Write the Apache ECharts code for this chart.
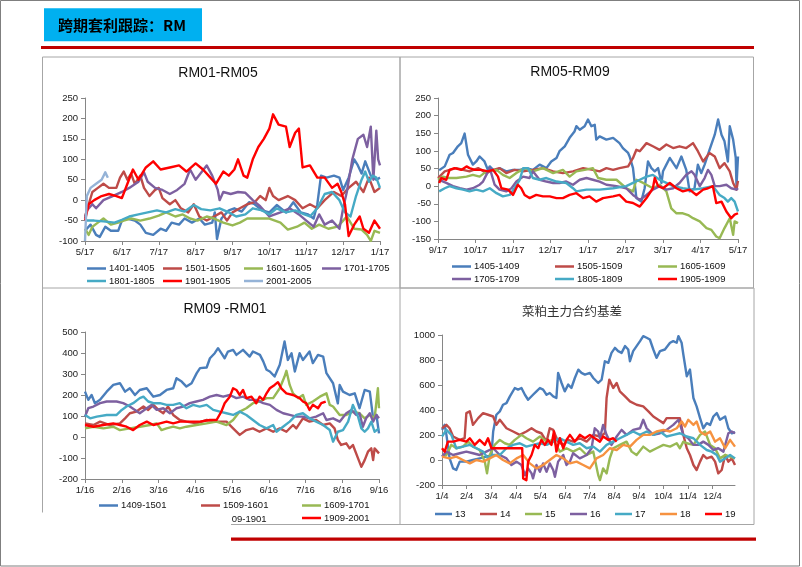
<!DOCTYPE html>
<html><head><meta charset="utf-8">
<script src="https://cdn.jsdelivr.net/npm/echarts@6/dist/echarts.min.js"></script>
<style>html,body{margin:0;padding:0;background:#fff}#c{width:802px;height:567px}</style>
</head><body><div id="c"></div>
<script>
// ---------- tick labels ----------
const p1Labels = ['5/17','6/17','7/17','8/17','9/17','10/17','11/17','12/17','1/17'];
const p2Labels = ['9/17','10/17','11/17','12/17','1/17','2/17','3/17','4/17','5/17'];
const p3Labels = ['1/16','2/16','3/16','4/16','5/16','6/16','7/16','8/16','9/16'];
const p4Labels = ['1/4','2/4','3/4','4/4','5/4','6/4','7/4','8/4','9/4','10/4','11/4','12/4'];

// ---------- titles ----------
const headerText = '跨期套利跟踪：RM';
const titles = ['RM01-RM05','RM05-RM09','RM09 -RM01','菜粕主力合约基差'];

// ---------- panel 1: RM01-RM05 (x = months since 5/17) ----------
const p1_1401_1405 = [[0,-75],[0.15,-60],[0.3,-85],[0.4,-90],[0.55,-65],[0.7,-75],[0.9,-75],[1.0,-50],[1.15,-45],[1.35,-50],[1.5,-60],[1.65,-80],[1.85,-85],[2.05,-70],[2.2,-75],[2.35,-55],[2.55,-60],[2.7,-45],[2.9,-55],[3.1,-45],[3.25,-60],[3.45,-55],[3.52,-30],[3.58,-95],[3.7,-45],[3.9,-25],[4.05,-20],[4.25,-28],[4.45,-5],[4.6,-10],[4.8,-25],[5.0,-30],[5.2,-12],[5.45,-30],[5.65,-5],[5.85,-30],[6.05,-35],[6.2,-45],[6.3,-10],[6.4,60],[6.55,55],[6.75,60],[6.9,55],[7.0,25],[7.15,55],[7.3,100],[7.4,85],[7.5,65],[7.6,95],[7.75,60],[7.9,50],[8.0,55]];
const p1_1501_1505 = [[0,-40],[0.1,-10],[0.2,20],[0.35,30],[0.5,40],[0.65,30],[0.85,30],[0.95,55],[1.05,70],[1.15,50],[1.25,65],[1.35,40],[1.5,60],[1.6,30],[1.75,10],[1.9,25],[2.0,30],[2.1,5],[2.3,-10],[2.45,0],[2.6,-20],[2.8,-30],[2.95,-10],[3.1,-40],[3.3,-50],[3.5,-40],[3.7,-30],[3.85,-50],[4.0,-30],[4.2,-20],[4.4,-10],[4.6,-5],[4.75,10],[4.9,0],[5.0,30],[5.1,10],[5.25,0],[5.5,10],[5.7,0],[5.9,-20],[6.1,-10],[6.3,-20],[6.5,0],[6.75,20],[6.95,10],[7.15,30],[7.35,45],[7.55,20],[7.7,55],[7.85,20],[8.0,30]];
const p1_1601_1605 = [[0,-70],[0.1,-85],[0.2,-65],[0.35,-55],[0.5,-45],[0.7,-60],[0.9,-55],[1.05,-50],[1.25,-45],[1.5,-50],[1.75,-45],[2.0,-38],[2.2,-30],[2.45,-40],[2.65,-35],[2.85,-45],[3.05,-50],[3.3,-40],[3.5,-45],[3.75,-55],[4.0,-62],[4.2,-55],[4.4,-45],[4.7,-45],[5.0,-45],[5.3,-55],[5.5,-72],[5.75,-65],[5.95,-55],[6.15,-70],[6.35,-60],[6.6,-70],[6.85,-65],[7.0,-50],[7.1,-40],[7.3,-70],[7.5,-72],[7.65,-85],[7.75,-100],[7.85,-75],[8.0,-80]];
const p1_1701_1705 = [[0,-45],[0.05,-25],[0.2,-10],[0.3,-20],[0.5,0],[0.75,10],[1.0,20],[1.2,30],[1.45,45],[1.6,68],[1.7,45],[1.9,30],[2.1,25],[2.3,15],[2.5,25],[2.7,40],[2.85,75],[3.0,50],[3.3,85],[3.45,60],[3.6,25],[3.65,0],[3.75,20],[3.95,15],[4.15,20],[4.35,18],[4.55,0],[4.75,-15],[5.0,-40],[5.3,-30],[5.55,-20],[5.8,-35],[6.0,-50],[6.2,-65],[6.35,-35],[6.5,-60],[6.7,-50],[6.9,-70],[7.0,-20],[7.1,20],[7.25,100],[7.4,150],[7.55,160],[7.65,130],[7.75,180],[7.82,50],[7.9,170],[7.95,100],[8.0,85]];
const p1_1801_1805 = [[0,-50],[0.25,-50],[0.5,-52],[0.8,-55],[1.0,-48],[1.2,-40],[1.45,-35],[1.7,-30],[1.95,-25],[2.2,-30],[2.45,-22],[2.7,-28],[2.95,-12],[3.15,-22],[3.4,-25],[3.65,-20],[3.9,-30],[4.1,-40],[4.35,-35],[4.55,-20],[4.8,-25],[5.0,-35],[5.2,-20],[5.45,-30],[5.7,-25],[5.95,-35],[6.1,-40],[6.3,-20],[6.5,15],[6.7,20],[6.9,0],[7.05,-30],[7.2,-40],[7.35,10],[7.5,50],[7.6,70],[7.7,45],[7.8,60],[7.9,55],[8.0,30]];
const p1_1901_1905 = [[0,-50],[0.1,-10],[0.25,0],[0.45,10],[0.65,15],[0.85,10],[1.0,5],[1.15,40],[1.3,75],[1.45,50],[1.65,80],[1.85,95],[2.05,75],[2.3,80],[2.55,85],[2.75,70],[3.0,90],[3.2,75],[3.4,55],[3.55,40],[3.75,70],[3.9,60],[4.05,75],[4.15,100],[4.3,60],[4.4,55],[4.55,100],[4.7,130],[4.85,150],[5.0,175],[5.1,210],[5.25,185],[5.45,180],[5.55,130],[5.7,165],[5.8,175],[5.9,80],[6.1,85],[6.3,55],[6.5,55],[6.7,30],[6.85,40],[6.95,20],[7.05,-10],[7.15,-88],[7.3,-60],[7.45,-40],[7.55,-70],[7.7,-80],[7.85,-50],[8.0,-70]];
const p1_2001_2005 = [[0,-100],[0.05,10],[0.15,30],[0.3,40],[0.45,50],[0.55,68],[0.62,55]];

// ---------- panel 2: RM05-RM09 (x = months since 9/17) ----------
const p2_1405_1409 = [[0.03,45],[0.18,56],[0.31,89],[0.4,94],[0.53,113],[0.62,122],[0.71,149],[0.8,89],[0.93,61],[1.02,70],[1.11,84],[1.24,70],[1.33,46],[1.38,56],[1.51,42],[1.64,51],[1.82,42],[2.0,46],[2.18,46],[2.36,51],[2.53,46],[2.71,61],[2.89,51],[3.02,70],[3.16,80],[3.24,99],[3.38,113],[3.51,137],[3.64,155],[3.69,170],[3.78,160],[3.91,170],[4.0,189],[4.09,170],[4.18,174],[4.22,132],[4.31,141],[4.49,132],[4.67,137],[4.84,122],[4.93,108],[5.07,94],[5.11,84],[5.2,51],[5.29,-34],[5.42,-44],[5.51,-6],[5.6,70],[5.69,51],[5.78,42],[5.87,51],[5.96,9],[6.0,42],[6.09,61],[6.18,80],[6.36,51],[6.49,84],[6.62,46],[6.71,-15],[6.84,-6],[6.93,61],[7.02,37],[7.11,61],[7.24,103],[7.38,146],[7.47,189],[7.56,146],[7.64,127],[7.73,70],[7.78,170],[7.87,132],[7.94,80],[7.96,0],[8.0,84]];
const p2_1505_1509 = [[0,23],[0.18,42],[0.31,46],[0.49,51],[0.67,46],[0.84,42],[1.07,51],[1.29,37],[1.47,46],[1.64,51],[1.82,37],[2.04,46],[2.27,42],[2.53,46],[2.8,51],[3.07,42],[3.33,37],[3.6,42],[3.87,51],[4.13,46],[4.31,42],[4.49,51],[4.67,46],[4.84,51],[5.07,56],[5.2,80],[5.29,103],[5.38,99],[5.56,122],[5.73,113],[5.91,103],[6.09,118],[6.27,108],[6.44,113],[6.62,108],[6.8,122],[6.93,99],[7.07,70],[7.24,94],[7.38,84],[7.51,51],[7.64,65],[7.78,42],[7.87,9],[7.96,-10],[8.0,15]];
const p2_1605_1609 = [[0,18],[0.13,27],[0.27,23],[0.49,23],[0.76,27],[0.93,32],[1.11,27],[1.29,42],[1.56,46],[1.73,32],[1.91,23],[2.09,37],[2.31,51],[2.53,42],[2.8,51],[3.07,37],[3.33,46],[3.51,27],[3.69,42],[3.91,46],[4.13,51],[4.27,23],[4.49,18],[4.76,18],[5.02,-6],[5.2,-15],[5.29,18],[5.47,9],[5.73,-6],[5.91,4],[6.09,-15],[6.22,-63],[6.36,-77],[6.53,-77],[6.67,-82],[6.8,-91],[6.98,-100],[7.16,-119],[7.29,-124],[7.42,-143],[7.51,-148],[7.64,-119],[7.78,-91],[7.87,-138],[7.91,-100],[8.0,-105]];
const p2_1705_1709 = [[0.03,18],[0.22,9],[0.4,0],[0.58,-6],[0.76,-10],[0.93,-6],[1.11,4],[1.2,13],[1.29,32],[1.38,51],[1.51,4],[1.64,-10],[1.82,-15],[1.96,-6],[2.09,13],[2.27,27],[2.44,23],[2.53,42],[2.71,18],[2.89,13],[3.07,9],[3.24,9],[3.42,13],[3.6,4],[3.78,18],[3.96,23],[4.13,18],[4.31,13],[4.49,4],[4.76,0],[5.02,-6],[5.2,-25],[5.38,-39],[5.56,-25],[5.73,-10],[5.91,0],[6.09,-10],[6.27,-6],[6.44,9],[6.62,32],[6.76,42],[6.84,32],[6.98,0],[7.11,23],[7.2,46],[7.29,32],[7.38,0],[7.51,0],[7.69,4],[7.82,-6],[7.96,-10],[8.0,-6]];
const p2_1805_1809 = [[0.03,-15],[0.18,-6],[0.31,0],[0.49,-6],[0.67,-10],[0.84,-15],[1.02,-10],[1.2,-15],[1.38,-6],[1.56,-20],[1.73,-29],[1.91,-25],[2.04,-6],[2.18,18],[2.27,51],[2.4,51],[2.53,23],[2.71,18],[2.89,23],[3.16,13],[3.42,9],[3.6,-6],[3.69,-15],[3.96,-10],[4.31,-10],[4.67,-6],[5.02,0],[5.2,9],[5.38,18],[5.56,27],[5.73,32],[5.91,18],[6.09,9],[6.27,0],[6.53,-6],[6.8,-10],[7.07,-6],[7.33,0],[7.51,-25],[7.64,-34],[7.73,-44],[7.82,-34],[7.91,-44],[8.0,-72]];
const p2_1905_1909 = [[0.03,9],[0.09,23],[0.22,18],[0.31,46],[0.44,51],[0.62,46],[0.76,56],[0.84,51],[0.98,46],[1.16,46],[1.33,42],[1.47,46],[1.6,27],[1.69,-6],[1.87,-10],[2.0,-25],[2.13,4],[2.22,-6],[2.31,-25],[2.44,-34],[2.62,-25],[2.8,-29],[2.98,-29],[3.16,-34],[3.33,-34],[3.51,-25],[3.69,-20],[3.87,-34],[4.04,-29],[4.22,-44],[4.4,-34],[4.67,-29],[4.84,-25],[5.02,-44],[5.2,-48],[5.38,-58],[5.56,-34],[5.73,-6],[5.78,23],[5.87,0],[6.0,-6],[6.18,9],[6.36,-6],[6.53,-15],[6.71,-10],[6.89,-25],[7.07,-10],[7.2,-6],[7.33,0],[7.42,-48],[7.56,-44],[7.69,-72],[7.82,-91],[7.91,-81],[8.0,-77]];

// ---------- panel 3: RM09-RM01 (x = months since 1/16) ----------
const p3_1409_1501 = [[0,216],[0.09,177],[0.18,200],[0.27,161],[0.41,177],[0.59,216],[0.77,248],[0.95,256],[1.09,216],[1.22,232],[1.36,200],[1.49,224],[1.68,232],[1.86,192],[2.04,200],[2.22,224],[2.4,232],[2.49,280],[2.63,264],[2.76,240],[2.9,256],[3.04,304],[3.13,328],[3.31,331],[3.4,375],[3.53,399],[3.62,423],[3.71,399],[3.8,375],[3.89,407],[4.03,415],[4.12,391],[4.3,415],[4.48,383],[4.57,407],[4.76,391],[4.85,360],[4.94,320],[5.03,312],[5.16,288],[5.3,344],[5.43,455],[5.52,367],[5.62,399],[5.71,312],[5.84,399],[5.93,367],[6.11,407],[6.2,352],[6.34,391],[6.48,383],[6.57,304],[6.75,256],[6.88,160],[6.93,248],[7.02,216],[7.2,200],[7.34,208],[7.47,137],[7.61,224],[7.75,216],[7.84,89],[7.93,105],[8,17]];
const p3_1509_1601 = [[0,65],[0.23,57],[0.41,73],[0.68,57],[0.95,65],[1.09,89],[1.22,113],[1.4,121],[1.59,145],[1.72,129],[1.86,153],[2.0,129],[2.13,113],[2.26,145],[2.4,105],[2.58,81],[2.76,73],[3.03,65],[3.31,81],[3.58,73],[3.85,73],[4.03,41],[4.21,10],[4.39,33],[4.57,41],[4.75,25],[4.94,41],[5.12,25],[5.3,41],[5.48,25],[5.66,57],[5.75,41],[5.93,89],[6.11,73],[6.29,81],[6.48,57],[6.66,65],[6.79,41],[6.88,-14],[6.97,-38],[7.11,-30],[7.2,-54],[7.29,-38],[7.43,-102],[7.52,-142],[7.61,-110],[7.7,-70],[7.79,-54],[7.84,-110],[7.88,-54],[8.0,-78]];
const p3_1609_1701 = [[0,41],[0.23,49],[0.5,41],[0.77,49],[0.95,33],[1.22,41],[1.49,49],[1.77,57],[1.95,65],[2.08,33],[2.22,41],[2.4,49],[2.58,41],[2.76,49],[3.03,57],[3.31,65],[3.58,73],[3.85,57],[4.03,81],[4.21,121],[4.39,137],[4.57,161],[4.75,169],[4.94,185],[5.12,185],[5.3,232],[5.43,288],[5.48,315],[5.57,248],[5.66,208],[5.8,185],[5.93,200],[6.02,153],[6.2,169],[6.39,192],[6.57,208],[6.66,153],[6.75,145],[6.93,105],[7.11,105],[7.29,121],[7.47,113],[7.61,89],[7.75,105],[7.88,89],[7.93,169],[7.97,232],[8.0,137]];
const p3_1709_1801 = [[0,97],[0.09,137],[0.23,145],[0.41,161],[0.59,169],[0.86,169],[1.04,161],[1.22,145],[1.36,129],[1.49,113],[1.68,137],[1.81,153],[1.95,129],[2.13,137],[2.31,113],[2.49,137],[2.67,145],[2.85,161],[3.03,169],[3.21,177],[3.4,192],[3.58,200],[3.76,192],[3.94,200],[4.12,185],[4.3,192],[4.48,177],[4.66,177],[4.85,161],[5.03,153],[5.21,129],[5.39,113],[5.57,105],[5.75,97],[5.93,97],[6.11,89],[6.29,97],[6.48,113],[6.57,81],[6.75,89],[6.93,73],[7.11,113],[7.25,129],[7.38,105],[7.47,113],[7.56,49],[7.65,89],[7.75,113],[7.84,73],[7.93,105],[8.0,89]];
const p3_1809_1901 = [[0,105],[0.14,89],[0.32,97],[0.59,105],[0.86,105],[1.0,129],[1.13,145],[1.31,161],[1.49,185],[1.59,192],[1.72,169],[1.86,161],[2.04,161],[2.22,153],[2.4,153],[2.58,161],[2.76,137],[2.94,153],[3.12,145],[3.31,153],[3.49,129],[3.67,121],[3.85,113],[4.03,105],[4.21,121],[4.39,105],[4.57,81],[4.75,57],[4.94,41],[5.12,57],[5.21,25],[5.39,49],[5.57,73],[5.75,105],[5.93,113],[6.11,89],[6.29,73],[6.48,57],[6.66,33],[6.75,-22],[6.88,25],[7.02,33],[7.16,73],[7.29,153],[7.43,97],[7.52,41],[7.61,25],[7.7,41],[7.79,73],[7.88,25],[8.0,41]];
const p3_1909_2001 = [[0,57],[0.23,49],[0.5,57],[0.77,65],[0.95,57],[1.13,49],[1.31,33],[1.49,57],[1.68,73],[1.86,57],[2.04,65],[2.22,73],[2.4,65],[2.58,73],[2.85,73],[3.13,73],[3.4,81],[3.58,81],[3.71,121],[3.8,161],[3.94,192],[4.03,232],[4.12,224],[4.21,200],[4.3,224],[4.39,185],[4.53,192],[4.66,161],[4.75,192],[4.85,177],[4.94,208],[5.03,232],[5.16,248],[5.25,261],[5.34,232],[5.48,208],[5.66,200],[5.84,185],[5.93,169],[6.02,161],[6.11,129],[6.2,153],[6.34,137],[6.43,161],[6.55,169]];

// ---------- panel 4: 菜粕主力合约基差 (x = months since 1/4) ----------
const p4_13 = [[0,241],[0.11,281],[0.18,201],[0.31,13],[0.45,-67],[0.58,-80],[0.72,-13],[0.99,-13],[1.26,0],[1.53,13],[1.8,27],[2.01,40],[2.08,228],[2.21,362],[2.35,389],[2.48,442],[2.62,455],[2.76,509],[2.96,576],[3.09,563],[3.23,576],[3.37,522],[3.5,482],[3.7,522],[3.84,549],[3.98,576],[4.11,563],[4.25,522],[4.38,536],[4.52,509],[4.65,496],[4.72,697],[4.86,616],[4.99,549],[5.13,603],[5.26,576],[5.4,656],[5.54,723],[5.67,697],[5.81,683],[6.01,697],[6.15,656],[6.35,616],[6.49,643],[6.62,790],[6.76,777],[6.89,857],[7.03,897],[7.16,871],[7.3,857],[7.44,911],[7.57,884],[7.64,790],[7.77,871],[7.91,911],[8.05,951],[8.18,991],[8.32,978],[8.45,964],[8.59,884],[8.72,817],[8.86,871],[9.06,884],[9.27,938],[9.4,951],[9.54,938],[9.61,991],[9.74,938],[9.81,844],[9.95,670],[10.08,723],[10.15,710],[10.22,496],[10.35,429],[10.49,335],[10.62,254],[10.76,295],[10.9,281],[11.03,348],[11.17,375],[11.3,322],[11.51,348],[11.64,254],[11.78,214],[11.91,222]];
const p4_14 = [[0,254],[0.18,281],[0.31,254],[0.45,188],[0.72,161],[0.92,174],[0.99,375],[1.13,389],[1.26,281],[1.47,335],[1.67,375],[1.87,362],[2.08,348],[2.21,281],[2.35,322],[2.62,254],[2.89,228],[3.16,201],[3.43,228],[3.64,254],[3.84,228],[4.04,214],[4.25,147],[4.38,254],[4.52,241],[4.72,147],[4.93,121],[5.13,161],[5.33,147],[5.6,174],[5.88,147],[6.15,201],[6.42,188],[6.62,214],[6.69,496],[6.8,643],[6.96,576],[7.1,616],[7.23,549],[7.44,509],[7.64,469],[7.91,442],[8.18,429],[8.39,389],[8.59,348],[8.79,322],[9.0,295],[9.13,335],[9.4,335],[9.67,335],[9.81,201],[9.95,94],[10.08,40],[10.22,-40],[10.35,-80],[10.49,-13],[10.62,40],[10.76,13],[10.96,27],[11.1,-13],[11.23,-107],[11.37,-80],[11.51,40],[11.64,-13],[11.78,13],[11.91,-40]];
const p4_15 = [[0,27],[0.18,40],[0.38,121],[0.58,94],[0.85,107],[1.06,147],[1.26,107],[1.53,80],[1.74,-13],[1.83,-107],[1.94,40],[2.14,121],[2.35,161],[2.55,134],[2.75,121],[2.96,161],[3.23,201],[3.43,174],[3.7,147],[3.98,188],[4.25,147],[4.52,161],[4.79,67],[5.06,94],[5.33,67],[5.6,94],[5.88,40],[6.15,67],[6.35,-121],[6.42,-161],[6.55,-67],[6.69,-107],[6.82,13],[6.96,94],[7.23,121],[7.5,147],[7.71,67],[7.91,40],[8.18,107],[8.45,67],[8.72,94],[9.0,121],[9.27,107],[9.54,134],[9.67,94],[9.81,147],[9.95,134],[10.22,121],[10.49,201],[10.69,228],[10.9,121],[11.1,94],[11.3,13],[11.51,40],[11.71,27],[11.91,13]];
const p4_16 = [[0,27],[0.18,67],[0.45,40],[0.72,54],[0.99,67],[1.26,54],[1.53,40],[1.8,67],[2.08,94],[2.35,40],[2.62,13],[2.82,-40],[3.03,-13],[3.23,-40],[3.37,-121],[3.5,-67],[3.64,-107],[3.7,-147],[3.84,-40],[3.98,-94],[4.11,-27],[4.25,-94],[4.38,-27],[4.52,-80],[4.59,-134],[4.72,-13],[4.93,40],[5.06,-40],[5.2,-13],[5.33,54],[5.6,13],[5.88,40],[6.08,94],[6.21,254],[6.35,228],[6.42,174],[6.55,281],[6.69,201],[6.89,121],[7.1,188],[7.3,241],[7.5,201],[7.77,241],[8.05,254],[8.18,322],[8.32,254],[8.59,201],[8.86,214],[9.13,241],[9.4,281],[9.61,322],[9.81,201],[10.01,174],[10.22,121],[10.42,121],[10.62,147],[10.83,121],[11.03,80],[11.23,94],[11.44,67],[11.64,214],[11.78,228],[11.91,214]];
const p4_17 = [[0,188],[0.18,241],[0.38,201],[0.58,94],[0.85,107],[1.13,121],[1.4,94],[1.67,67],[1.87,13],[2.08,40],[2.35,40],[2.62,94],[2.89,121],[3.16,134],[3.43,107],[3.7,121],[3.98,134],[4.25,121],[4.52,147],[4.79,174],[5.06,147],[5.33,121],[5.6,134],[5.88,94],[6.15,107],[6.42,67],[6.69,121],[6.96,147],[7.23,174],[7.5,201],[7.77,228],[8.05,201],[8.32,228],[8.59,201],[8.86,228],[9.13,188],[9.4,201],[9.67,214],[9.95,188],[10.22,174],[10.49,121],[10.76,80],[10.96,67],[11.17,40],[11.3,-13],[11.51,13],[11.71,40],[11.91,13]];
const p4_18 = [[0,27],[0.31,13],[0.58,27],[0.85,0],[1.13,-27],[1.4,0],[1.67,-13],[1.94,13],[2.21,40],[2.48,0],[2.75,-27],[3.03,13],[3.3,40],[3.57,-27],[3.84,-67],[4.11,-40],[4.38,0],[4.65,40],[4.93,13],[5.2,-27],[5.47,-13],[5.74,-40],[6.01,-67],[6.28,13],[6.55,40],[6.82,94],[7.1,80],[7.37,121],[7.64,107],[7.91,161],[8.18,201],[8.45,201],[8.72,228],[9.0,241],[9.27,228],[9.54,254],[9.74,308],[9.88,268],[10.01,322],[10.22,281],[10.35,308],[10.49,228],[10.69,201],[10.9,228],[11.1,147],[11.3,174],[11.51,94],[11.71,161],[11.91,107]];
const p4_19 = [[0,94],[0.11,67],[0.24,147],[0.45,147],[0.72,161],[0.99,147],[1.13,174],[1.33,121],[1.53,161],[1.74,121],[1.87,174],[2.01,94],[2.35,94],[2.75,94],[3.16,94],[3.26,94],[3.3,-147],[3.43,-161],[3.5,-13],[3.64,40],[3.77,121],[3.91,94],[4.04,161],[4.18,121],[4.31,161],[4.45,121],[4.55,228],[4.65,67],[4.79,174],[4.93,94],[5.06,161],[5.2,201],[5.4,147],[5.6,201],[5.81,174],[6.01,201],[6.21,174],[6.42,147],[6.55,188],[6.76,161],[6.96,174],[7.1,147]];

// ---------- styling ----------
const C = {blue:'#4A7EBB', dred:'#BE4B48', green:'#98B954', purple:'#7D60A0', teal:'#46AAC5', orange:'#F69240', red:'#FF0000', light:'#95B3D7'};
const LATIN = 'Liberation Sans, Arial, sans-serif';
const CJK = 'Noto Sans CJK SC, sans-serif';
const AX = '#868686';

const panels = [
  {grid:{left:85, top:98, width:295, height:143}, xmax:8, ymin:-100, ymax:250, yint:50, labels:p1Labels, title:[218,73]},
  {grid:{left:438, top:98, width:300, height:141}, xmax:8, ymin:-150, ymax:250, yint:50, labels:p2Labels, title:[570,72]},
  {grid:{left:85, top:332, width:294, height:147}, xmax:8, ymin:-200, ymax:500, yint:100, labels:p3Labels, title:[225,309]},
  {grid:{left:442, top:335, width:293, height:150}, xmax:11.91, ymin:-200, ymax:1000, yint:200, labels:p4Labels, title:[572,311]}
];

const seriesDefs = [
  [0,'1401-1405',p1_1401_1405,C.blue],[0,'1501-1505',p1_1501_1505,C.dred],[0,'1601-1605',p1_1601_1605,C.green],
  [0,'1701-1705',p1_1701_1705,C.purple],[0,'1801-1805',p1_1801_1805,C.teal],[0,'1901-1905',p1_1901_1905,C.red],[0,'2001-2005',p1_2001_2005,C.light],
  [1,'1405-1409',p2_1405_1409,C.blue],[1,'1505-1509',p2_1505_1509,C.dred],[1,'1605-1609',p2_1605_1609,C.green],
  [1,'1705-1709',p2_1705_1709,C.purple],[1,'1805-1809',p2_1805_1809,C.teal],[1,'1905-1909',p2_1905_1909,C.red],
  [2,'1409-1501',p3_1409_1501,C.blue],[2,'1509-1601',p3_1509_1601,C.dred],[2,'1609-1701',p3_1609_1701,C.green],
  [2,'1709-1801',p3_1709_1801,C.purple],[2,'1809-1901',p3_1809_1901,C.teal],[2,'1909-2001',p3_1909_2001,C.red],
  [3,'13',p4_13,C.blue],[3,'14',p4_14,C.dred],[3,'15',p4_15,C.green],[3,'16',p4_16,C.purple],
  [3,'17',p4_17,C.teal],[3,'18',p4_18,C.orange],[3,'19',p4_19,C.red]
];

// legend item placements [name, lineStartX, centerY, iconWidth]
const legendPos = [
  ['1401-1405',87,269.5,19],['1501-1505',163,269.5,19],['1601-1605',244,269.5,19],['1701-1705',322,269.5,19],
  ['1801-1805',87,282,19],['1901-1905',163,282,19],['2001-2005',244,282,19],
  ['1405-1409',452,267.5,19],['1505-1509',555,267.5,19],['1605-1609',658,267.5,19],
  ['1705-1709',452,280,19],['1805-1809',555,280,19],['1905-1909',658,280,19],
  ['1409-1501',99,506.5,19],['1509-1601',201,506.5,19],['1609-1701',302,506.5,19],['1909-2001',302,519,19],
  ['13',435,515,17],['14',480,515,17],['15',525,515,17],['16',570,515,17],['17',615,515,17],['18',660,515,17],['19',705,515,17]
];

const grid = [], xAxis = [], yAxis = [], title = [];
panels.forEach((p, i) => {
  grid.push(Object.assign({containLabel:false}, p.grid));
  const ticks = p.labels.map((_, k) => k);
  xAxis.push({
    type:'value', gridIndex:i, min:0, max:p.xmax, interval:1,
    axisLine:{show:true, onZero:false, lineStyle:{color:AX, width:1}},
    axisTick:{show:true, length:4, lineStyle:{color:AX}, customValues:ticks},
    splitLine:{show:false},
    axisLabel:{fontSize:9.5, color:'#1a1a1a', fontFamily:LATIN, margin:6, customValues:ticks,
      formatter: v => p.labels[Math.round(v)] || ''}
  });
  yAxis.push({
    type:'value', gridIndex:i, min:p.ymin, max:p.ymax, interval:p.yint,
    axisLine:{show:true, lineStyle:{color:AX, width:1}},
    axisTick:{show:true, length:4, lineStyle:{color:AX}},
    splitLine:{show:false},
    axisLabel:{fontSize:9.5, color:'#1a1a1a', fontFamily:LATIN, margin:7, formatter: v => String(v)}
  });
  const isCJK = i === 3;
  title.push({
    text: titles[i], left:p.title[0], top:p.title[1] - (isCJK ? 6 : 7), textAlign:'center',
    padding:0,
    textStyle:{fontSize:isCJK ? 12.5 : 14, fontWeight:'normal', color:isCJK ? '#333' : '#111', fontFamily:isCJK ? CJK : LATIN}
  });
});

const series = seriesDefs.map(([i, name, data, color]) => ({
  type:'line', name, data, xAxisIndex:i, yAxisIndex:i,
  showSymbol:false, symbol:'none', clip:true,
  lineStyle:{width:2.4, color, join:'round'}, itemStyle:{color},
  emphasis:{disabled:true}
}));

const legend = legendPos.map(([name, x, cy, w]) => ({
  data:[name], left:x, top:cy - 6, padding:0, itemGap:0, selectedMode:false,
  icon:'rect', itemWidth:w, itemHeight:2.5,
  textStyle:{fontSize:9.5, color:'#111', fontFamily:LATIN, padding:[0,0,0,-2]}
}));

const border = '#A6A6A6';
const ln = (x1,y1,x2,y2,color,w) => ({type:'line', shape:{x1,y1,x2,y2}, style:{stroke:color, lineWidth:w}, silent:true});
const graphic = [
  {type:'rect', shape:{x:0.5, y:0.5, width:799, height:565.5}, style:{fill:null, stroke:'#7F7F7F', lineWidth:1}, silent:true, z:-1},
  {type:'rect', shape:{x:44, y:8.3, width:158, height:33}, style:{fill:'#00B0F0'}, silent:true},
  {type:'text', x:58, y:25.5, style:{text:headerText, font:'bold 15px ' + CJK, fill:'#000', verticalAlign:'middle', align:'left'}, silent:true},
  {type:'rect', shape:{x:41, y:46, width:713, height:3}, style:{fill:'#C00000'}, silent:true},
  {type:'rect', shape:{x:231, y:537.5, width:525, height:3.3}, style:{fill:'#C00000'}, silent:true},
  {type:'rect', shape:{x:42.5, y:57, width:357.5, height:231}, style:{fill:null, stroke:border, lineWidth:1}, silent:true},
  {type:'rect', shape:{x:400, y:57, width:353.5, height:231}, style:{fill:null, stroke:border, lineWidth:1}, silent:true},
  {type:'rect', shape:{x:400, y:288, width:354, height:236.5}, style:{fill:null, stroke:border, lineWidth:1}, silent:true},
  ln(42.5,288,42.5,512.5,border,1),
  ln(231,524.5,400,524.5,border,1),
  {type:'text', x:231.7, y:519, style:{text:'09-1901', font:'9.5px ' + LATIN, fill:'#111', verticalAlign:'middle', align:'left'}, silent:true}
];

const chart = echarts.init(document.getElementById('c'), null, {renderer:'canvas', width:802, height:567});
chart.setOption({
  animation:false, backgroundColor:'#ffffff',
  title, grid, xAxis, yAxis, legend, series, graphic
});
</script></body></html>
